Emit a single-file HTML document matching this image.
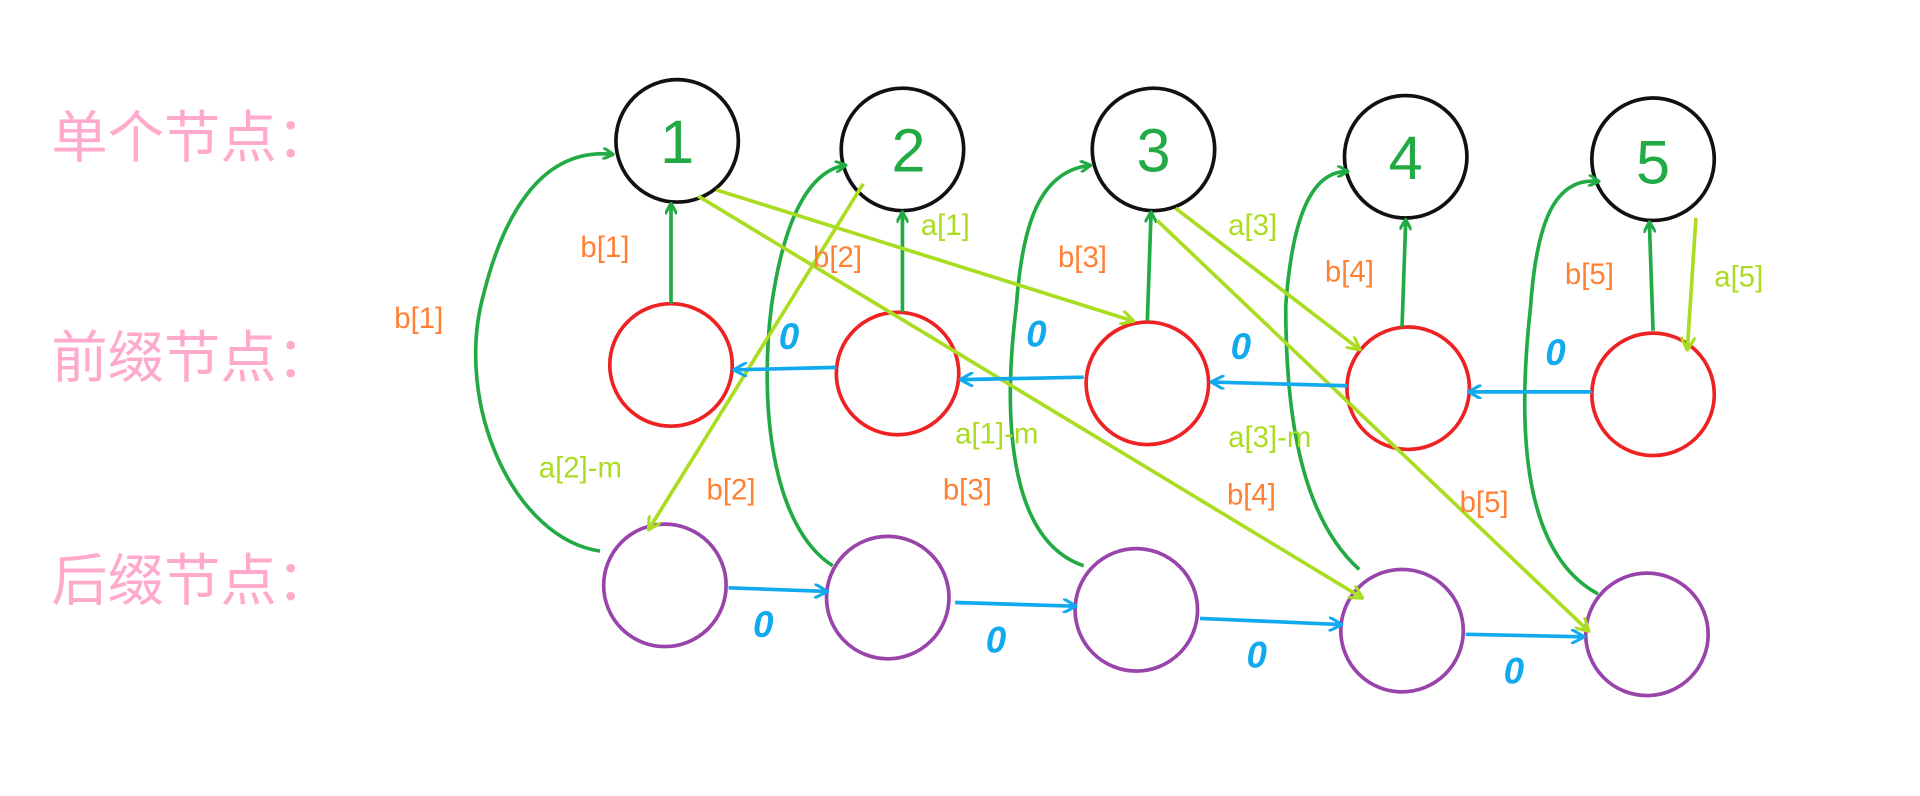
<!DOCTYPE html>
<html><head><meta charset="utf-8"><style>html,body{margin:0;padding:0;background:#fff;width:1920px;height:796px;overflow:hidden}</style></head><body>
<svg width="1920" height="796" viewBox="0 0 1568 650" xmlns="http://www.w3.org/2000/svg" font-family="Liberation Sans, Noto Sans CJK SC, sans-serif">
<defs>
<marker id="g" markerWidth="10" markerHeight="10" refX="8" refY="5" orient="auto" markerUnits="userSpaceOnUse"><path d="M0,0 L9,5 L0,10" fill="none" stroke="#22aa44" stroke-width="2.5"/></marker>
<marker id="l" markerWidth="12" markerHeight="12" refX="10" refY="6" orient="auto" markerUnits="userSpaceOnUse"><path d="M0,0 L11,6 L0,12" fill="none" stroke="#aadd22" stroke-width="2.5"/></marker>
<marker id="b" markerWidth="12" markerHeight="12" refX="10" refY="6" orient="auto" markerUnits="userSpaceOnUse"><path d="M0,0 L11,6 L0,12" fill="none" stroke="#11aaee" stroke-width="2.5"/></marker>
</defs>
<g fill="#ffaacc" font-size="46">
<text x="42" y="128">单个节点：</text>
<text x="42" y="308">前缀节点：</text>
<text x="42" y="490">后缀节点：</text>
</g>
<g fill="none" stroke-width="3">
<g stroke="#111"><circle cx="553" cy="115" r="50"/><circle cx="737" cy="122" r="50"/><circle cx="942" cy="122" r="50"/><circle cx="1148" cy="128" r="50"/><circle cx="1350" cy="130" r="50"/></g>
<g stroke="#ee2222"><circle cx="548" cy="298" r="50"/><circle cx="733" cy="305" r="50"/><circle cx="937" cy="313" r="50"/><circle cx="1150" cy="317" r="50"/><circle cx="1350" cy="322" r="50"/></g>
<g stroke="#9944aa"><circle cx="543" cy="478" r="50"/><circle cx="725" cy="488" r="50"/><circle cx="928" cy="498" r="50"/><circle cx="1145" cy="515" r="50"/><circle cx="1345" cy="518" r="50"/></g>
</g>
<g fill="#22aa44" font-size="50" text-anchor="middle">
<text x="553" y="133">1</text><text x="742" y="140">2</text><text x="942" y="140">3</text><text x="1148" y="146">4</text><text x="1350" y="150">5</text>
</g>
<g stroke="#22aa44" stroke-width="3" fill="none" marker-end="url(#g)">
<path d="M548,248 L548,167"/><path d="M737,255 L737,174"/><path d="M937,262 L940,174"/><path d="M1145,267 L1148,180"/><path d="M1350,270 L1347,182"/>
<path d="M490,450 C420,440 370,330 395,240 C410,180 440,120 500,126"/>
<path d="M680,462 C630,430 620,330 630,250 C640,180 660,140 690,135"/>
<path d="M885,462 C820,440 820,330 830,250 C835,180 850,140 890,135"/>
<path d="M1110,465 C1060,420 1050,330 1050,250 C1055,180 1070,140 1100,140"/>
<path d="M1305,485 C1240,450 1240,340 1250,250 C1255,180 1270,145 1305,148"/>
</g>
<g stroke="#aadd22" stroke-width="3" fill="none" marker-end="url(#l)">
<path d="M585,155 L925,262"/><path d="M570,160 L1112,488"/><path d="M705,150 L530,432"/><path d="M960,170 L1110,285"/><path d="M945,180 L1297,515"/><path d="M1385,178 L1378,285"/>
</g>
<g stroke="#11aaee" stroke-width="3" fill="none" marker-end="url(#b)">
<path d="M683,300 L600,302"/><path d="M885,308 L785,310"/><path d="M1100,315 L990,312"/><path d="M1300,320 L1200,320"/>
<path d="M595,480 L675,483"/><path d="M780,492 L878,495"/><path d="M980,505 L1095,510"/><path d="M1197,518 L1293,520"/>
</g>
<g fill="#ff8033" font-size="24">
<text x="474" y="210">b[1]</text><text x="664" y="218">b[2]</text><text x="864" y="218">b[3]</text><text x="1082" y="230">b[4]</text><text x="1278" y="232">b[5]</text>
<text x="322" y="268">b[1]</text><text x="577" y="408">b[2]</text><text x="770" y="408">b[3]</text><text x="1002" y="412">b[4]</text><text x="1192" y="418">b[5]</text>
</g>
<g fill="#aadd22" font-size="24">
<text x="752" y="192">a[1]</text><text x="1003" y="192">a[3]</text><text x="1400" y="234">a[5]</text>
<text x="440" y="390">a[2]-m</text><text x="780" y="362">a[1]-m</text><text x="1003" y="365">a[3]-m</text>
</g>
<g fill="#11aaee" font-size="30" font-style="italic" font-weight="bold">
<text x="636" y="285">0</text><text x="838" y="283">0</text><text x="1005" y="293">0</text><text x="1262" y="298">0</text>
<text x="615" y="520">0</text><text x="805" y="533">0</text><text x="1018" y="545">0</text><text x="1228" y="558">0</text>
</g>
</svg>
</body></html>
